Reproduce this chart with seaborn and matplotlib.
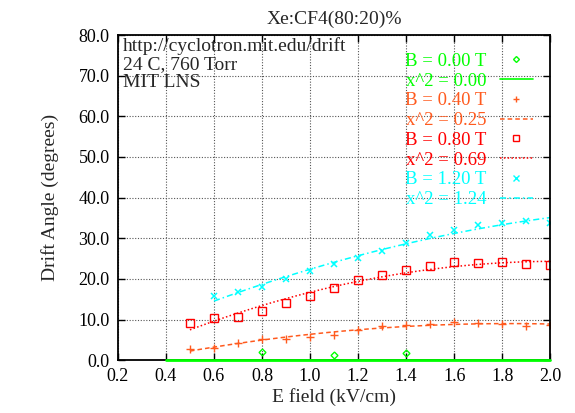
import matplotlib
matplotlib.use("Agg")
import matplotlib.pyplot as plt
import pandas as pd
import seaborn as sns
from matplotlib.lines import Line2D

# B = 0.00 T
e_b0 = [0.8, 1.1, 1.4]
angle_b0 = [1.9, 1.2, 1.8]
fit_b0_x = [0.4, 2.0]
fit_b0_y = [0.0, 0.0]

# B = 0.40 T
e_b040 = [0.5, 0.6, 0.7, 0.8, 0.9, 1.0, 1.1, 1.2, 1.3, 1.4, 1.5, 1.6, 1.7, 1.8, 1.9, 2.0]
angle_b040 = [2.8, 3.0, 4.3, 5.1, 5.1, 5.7, 6.3, 7.3, 8.4, 8.6, 9.0, 9.4, 9.2, 9.0, 8.5, 8.6]

# B = 0.80 T
e_b080 = [0.5, 0.6, 0.7, 0.8, 0.9, 1.0, 1.1, 1.2, 1.3, 1.4, 1.5, 1.6, 1.7, 1.8, 1.9, 2.0]
angle_b080 = [9.1, 10.3, 10.7, 12.0, 14.0, 15.8, 17.7, 19.7, 21.0, 22.2, 23.2, 24.1, 23.9, 24.1, 23.6, 23.4]

# B = 1.20 T
e_b120 = [0.6, 0.7, 0.8, 0.9, 1.0, 1.1, 1.2, 1.3, 1.4, 1.5, 1.6, 1.7, 1.8, 1.9, 2.0]
angle_b120 = [15.8, 16.7, 17.9, 19.9, 22.0, 23.7, 25.2, 26.8, 28.8, 30.7, 32.0, 33.3, 33.7, 34.2, 33.8]

labels_b = ["B = 0.00 T", "B = 0.40 T", "B = 0.80 T", "B = 1.20 T"]
labels_chi = ["x^2 = 0.00", "x^2 = 0.25", "x^2 = 0.69", "x^2 = 1.24"]
colors = ["#00ff00", "#ff5a1e", "#ff0000", "#00ffff"]

x_ticks = [0.2, 0.4, 0.6, 0.8, 1.0, 1.2, 1.4, 1.6, 1.8, 2.0]
y_ticks = [0, 10, 20, 30, 40, 50, 60, 70, 80]

DASH = (0, (3, 2))
DOT = (0, (1, 1.5))
DASHDOT = (0, (4, 2, 1, 2))


def main() -> None:
    sns.set_style("ticks")
    plt.rcParams["font.family"] = ["Liberation Serif", "DejaVu Serif"]

    fig = plt.figure(figsize=(5.75, 4.13), dpi=100)
    ax = fig.add_axes([0.205, 0.128, 0.752, 0.787])

    # fits
    ax.plot(fit_b0_x, fit_b0_y, color=colors[0], lw=2.0, zorder=3, clip_on=False)
    series = [
        (e_b040, angle_b040, colors[1], DASH),
        (e_b080, angle_b080, colors[2], DOT),
        (e_b120, angle_b120, colors[3], DASHDOT),
    ]
    for xs, ys, col, ls in series:
        df = pd.DataFrame({"E": xs, "angle": ys})
        sns.regplot(data=df, x="E", y="angle", order=2, scatter=False, ci=None,
                    truncate=True, ax=ax,
                    line_kws=dict(color=col, lw=1.1, linestyle=ls))

    # points
    ax.plot(e_b0, angle_b0, ls="none", marker="D", ms=3.5, mfc="none", mec=colors[0], mew=1)
    ax.plot(e_b040, angle_b040, ls="none", marker="+", ms=6, mec=colors[1], mew=1)
    ax.plot(e_b080, angle_b080, ls="none", marker="s", ms=5.5, mfc="none", mec=colors[2], mew=1)
    ax.plot(e_b120, angle_b120, ls="none", marker="x", ms=5, mec=colors[3], mew=1.1)

    ax.set_xlim(0.2, 2.0)
    ax.set_ylim(0, 80)
    ax.set_xticks(x_ticks)
    ax.set_xticklabels([f"{v:.1f}" for v in x_ticks])
    ax.set_yticks(y_ticks)
    ax.set_yticklabels([f"{v:.1f}" for v in y_ticks])
    ax.tick_params(direction="in", top=True, right=True, labelsize=13, length=5,
                   width=1, colors="black", pad=6)
    for sp in ax.spines.values():
        sp.set_visible(True)
        sp.set_linewidth(1.3)
        sp.set_color("black")
    ax.grid(True, color="#555555", linestyle=DOT, lw=0.8)
    ax.set_axisbelow(True)

    ax.set_title("Xe:CF4(80:20)%", fontsize=14, pad=8)
    ax.set_xlabel("E field (kV/cm)", fontsize=14, labelpad=2)
    ax.set_ylabel("Drift Angle (degrees)", fontsize=14, labelpad=14)

    ax.text(0.012, 0.995, "http://cyclotron.mit.edu/drift\n24 C, 760 Torr\nMIT LNS",
            transform=ax.transAxes, ha="left", va="top", fontsize=14, linespacing=1.08)

    handles = [
        Line2D([], [], ls="none", marker="D", ms=3, mfc="none", mec=colors[0]),
        Line2D([], [], color=colors[0], lw=1.2),
        Line2D([], [], ls="none", marker="+", ms=5, mec=colors[1]),
        Line2D([], [], color=colors[1], lw=1.1, linestyle=DASH),
        Line2D([], [], ls="none", marker="s", ms=4.5, mfc="none", mec=colors[2]),
        Line2D([], [], color=colors[2], lw=1.1, linestyle=DOT),
        Line2D([], [], ls="none", marker="x", ms=4.5, mec=colors[3]),
        Line2D([], [], color=colors[3], lw=1.1, linestyle=DASHDOT),
    ]
    labels = []
    for b, c in zip(labels_b, labels_chi):
        labels += [b, c]
    leg = ax.legend(handles, labels, loc="upper right", bbox_to_anchor=(0.985, 0.98),
                    frameon=False, markerfirst=False, fontsize=13.5,
                    labelspacing=0.14, handlelength=1.75, handletextpad=0.7,
                    borderaxespad=0.2)
    for txt, col in zip(leg.get_texts(), [c for c in colors for _ in range(2)]):
        txt.set_color(col)

    fig.savefig("out.png", dpi=100)


if __name__ == "__main__":
    main()
